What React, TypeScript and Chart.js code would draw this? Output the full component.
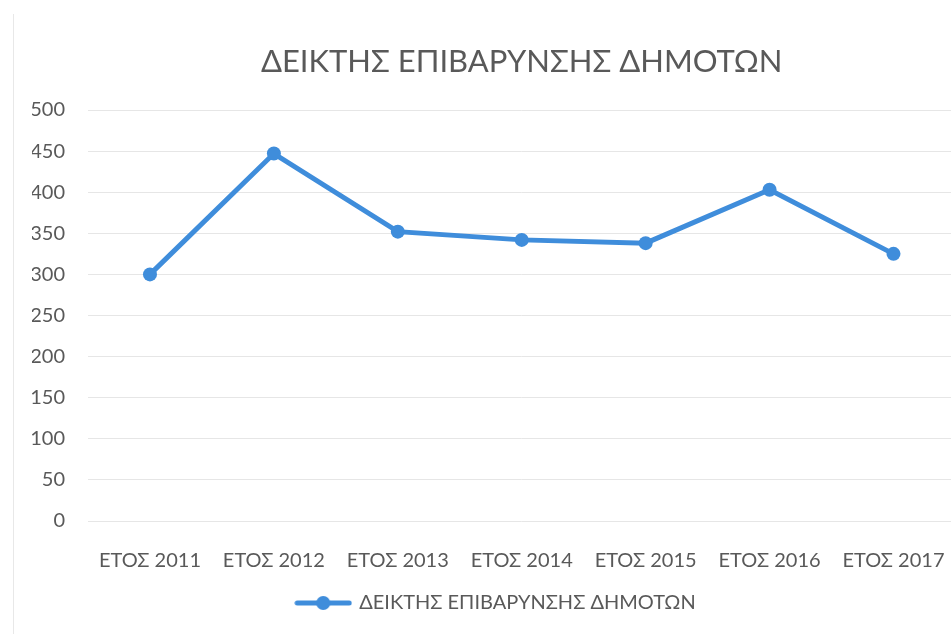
import React, { useEffect, useRef } from "react";
import { Chart, registerables } from "chart.js";

Chart.register(...registerables);

const TITLE = "ΔΕΙΚΤΗΣ ΕΠΙΒΑΡΥΝΣΗΣ ΔΗΜΟΤΩΝ";
const SERIES_LABEL = "ΔΕΙΚΤΗΣ ΕΠΙΒΑΡΥΝΣΗΣ ΔΗΜΟΤΩΝ";
const categories = ["ΕΤΟΣ 2011", "ΕΤΟΣ 2012", "ΕΤΟΣ 2013", "ΕΤΟΣ 2014", "ΕΤΟΣ 2015", "ΕΤΟΣ 2016", "ΕΤΟΣ 2017"];
const values = [300, 447, 352, 342, 338, 403, 325];
const yMin = 0;
const yMax = 500;
const yStep = 50;

const BLUE = "#3f8ddb";
const TEXT = "#595959";
const FONT = "Lato, 'Open Sans', sans-serif";

function legendMarker(): HTMLCanvasElement {
  const c = document.createElement("canvas");
  c.width = 58;
  c.height = 16;
  const ctx = c.getContext("2d")!;
  ctx.strokeStyle = BLUE;
  ctx.lineWidth = 5;
  ctx.lineCap = "round";
  ctx.beginPath();
  ctx.moveTo(3, 8);
  ctx.lineTo(55, 8);
  ctx.stroke();
  ctx.fillStyle = BLUE;
  ctx.beginPath();
  ctx.arc(29, 8, 7, 0, Math.PI * 2);
  ctx.fill();
  return c;
}

const titlePlugin = {
  id: "plotTitle",
  afterDraw(chart: any) {
    const { ctx, chartArea } = chart;
    ctx.save();
    ctx.fillStyle = TEXT;
    ctx.font = `31px ${FONT}`;
    ctx.textAlign = "center";
    ctx.textBaseline = "middle";
    ctx.fillText(TITLE, (chartArea.left + chartArea.right) / 2, 62);
    ctx.restore();
  },
};

export default function App() {
  const ref = useRef<HTMLCanvasElement>(null);

  useEffect(() => {
    document.body.style.margin = "0";
    document.body.style.overflow = "hidden";
    const marker = legendMarker();
    const chart = new Chart(ref.current!, {
      type: "line",
      data: {
        labels: categories,
        datasets: [
          {
            label: SERIES_LABEL,
            data: values,
            borderColor: BLUE,
            backgroundColor: BLUE,
            borderWidth: 5,
            pointRadius: 7,
            pointBackgroundColor: BLUE,
            pointBorderWidth: 0,
            tension: 0,
          },
        ],
      },
      plugins: [titlePlugin],
      options: {
        animation: false,
        responsive: false,
        layout: { padding: { left: 32, right: 4, top: 110, bottom: 11 } },
        plugins: {
          title: { display: false },
          legend: {
            position: "bottom",
            labels: {
              color: TEXT,
              font: { family: FONT, size: 20 },
              usePointStyle: true,
              pointStyleWidth: 52,
              generateLabels: () => [
                {
                  text: SERIES_LABEL,
                  pointStyle: marker,
                  fontColor: TEXT,
                  strokeStyle: BLUE,
                  fillStyle: BLUE,
                  lineWidth: 0,
                  datasetIndex: 0,
                  hidden: false,
                },
              ],
            },
          },
          tooltip: { enabled: false },
        },
        scales: {
          x: {
            offset: true,
            grid: { display: false },
            border: { display: false },
            afterFit: (s: any) => {
              s.height = 62;
            },
            ticks: {
              color: TEXT,
              font: { family: FONT, size: 20 },
              padding: 20,
              maxRotation: 0,
              autoSkip: false,
            },
          },
          y: {
            min: yMin,
            max: yMax,
            grid: { color: "#e6e6e6", lineWidth: 1, drawTicks: false },
            border: { display: false },
            afterFit: (s: any) => {
              s.width = 56;
            },
            ticks: {
              stepSize: yStep,
              color: TEXT,
              font: { family: FONT, size: 20 },
              padding: 23,
            },
          },
        },
      },
    });
    return () => chart.destroy();
  }, []);

  return (
    <div style={{ position: "relative", width: 951, height: 634, background: "#fff", overflow: "hidden" }}>
      <div style={{ position: "absolute", left: 13, top: 14, bottom: 0, width: 1, background: "#e8e8e8" }} />
      <canvas ref={ref} width={965} height={634} style={{ display: "block" }} />
    </div>
  );
}
